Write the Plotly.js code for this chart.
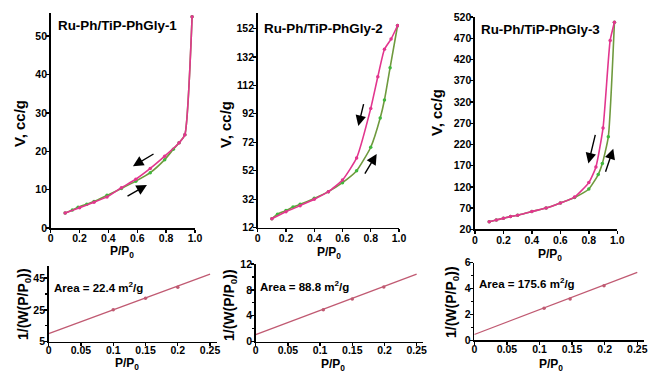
<!DOCTYPE html>
<html><head><meta charset="utf-8">
<script src="https://cdn.plot.ly/plotly-3.0.1.min.js"></script>
<style>body{margin:0;padding:0;background:#fff}#chart{width:651px;height:372px}</style>
</head><body><div id="chart"></div>
<script>
// ---- Data ----
const titles = ["Ru-Ph/TiP-PhGly-1", "Ru-Ph/TiP-PhGly-2", "Ru-Ph/TiP-PhGly-3"];
const areaLabels = ["Area = 22.4 m<sup>2</sup>/g", "Area = 88.8 m<sup>2</sup>/g", "Area = 175.6 m<sup>2</sup>/g"];

// Sample 1 isotherm
const ads1X = [0.1, 0.15, 0.19, 0.25, 0.3, 0.39, 0.49, 0.59, 0.69, 0.79, 0.85, 0.89, 0.93, 0.98];
const ads1Y = [3.9, 4.7, 5.4, 6.2, 6.9, 8.5, 10.3, 12.2, 14.4, 17.8, 20.5, 22.2, 24.3, 55.0];
const des1X = [0.98, 0.93, 0.89, 0.79, 0.69, 0.59, 0.49, 0.39, 0.3, 0.2, 0.1];
const des1Y = [55.0, 24.3, 22.2, 18.7, 15.5, 12.7, 10.5, 8.1, 6.7, 5.3, 3.9];

// Sample 2 isotherm
const ads2X = [0.1, 0.14, 0.2, 0.25, 0.3, 0.4, 0.5, 0.6, 0.7, 0.8, 0.867, 0.897, 0.937, 0.99];
const ads2Y = [18.3, 21.5, 24, 26.5, 28.4, 32.6, 37.3, 43.6, 52, 68.5, 89, 101.7, 124.4, 154];
const des2X = [0.99, 0.944, 0.897, 0.85, 0.8, 0.7, 0.6, 0.5, 0.4, 0.3, 0.2, 0.1];
const des2Y = [154, 144.5, 137.3, 118, 95.8, 61, 45.5, 37.3, 32, 27.5, 23.2, 18.3];

// Sample 3 isotherm
const ads3X = [0.1, 0.15, 0.2, 0.25, 0.3, 0.4, 0.5, 0.6, 0.7, 0.8, 0.866, 0.895, 0.937, 0.98];
const ads3Y = [38, 42, 46, 50, 53, 62, 70, 82, 95, 115, 149, 175, 238, 508];
const des3X = [0.98, 0.95, 0.9, 0.85, 0.8, 0.7, 0.6, 0.5, 0.4, 0.3, 0.25, 0.2, 0.15, 0.1];
const des3Y = [508, 465, 259, 167, 130, 96, 82, 70, 62, 53, 50, 46, 42, 38];

// BET plots (points and fitted line ends)
const bet1X = [0.1, 0.15, 0.2];
const bet1Y = [25.0, 32.3, 39.3];
const fit1X = [0, 0.25];
const fit1Y = [10.0, 47.5];

const bet2X = [0.105, 0.15, 0.199];
const bet2Y = [4.95, 6.6, 8.45];
const fit2X = [0, 0.25];
const fit2Y = [1.1, 10.45];

const bet3X = [0.107, 0.147, 0.199];
const bet3Y = [2.47, 3.2, 4.22];
const fit3X = [0, 0.25];
const fit3Y = [0.45, 5.25];

// ---- Styles ----
const PINK = "#e2368e";
const GREEN_LINE = "#6f9a3e";
const GREEN_MK = "#3fb83c";
const BETC = "#c05a72";
const FONT = "Liberation Sans, Arial, sans-serif";

function iso(x, y, line, mk, xa, ya) {
  return {x: x, y: y, xaxis: xa, yaxis: ya, mode: "lines+markers", type: "scatter",
    line: {color: line, width: 1.6, shape: "spline", smoothing: 0.5},
    marker: {color: mk, size: 3.5}, hoverinfo: "skip", showlegend: false};
}
function betPts(x, y, xa, ya) {
  return {x: x, y: y, xaxis: xa, yaxis: ya, mode: "markers", type: "scatter",
    marker: {color: BETC, size: 3.5}, showlegend: false, hoverinfo: "skip"};
}
function betLine(x, y, xa, ya) {
  return {x: x, y: y, xaxis: xa, yaxis: ya, mode: "lines", type: "scatter",
    line: {color: BETC, width: 1.3}, showlegend: false, hoverinfo: "skip"};
}

const data = [
  iso(ads1X, ads1Y, GREEN_LINE, GREEN_MK, "x", "y"),
  iso(des1X, des1Y, PINK, PINK, "x", "y"),
  iso(ads2X, ads2Y, GREEN_LINE, GREEN_MK, "x2", "y2"),
  iso(des2X, des2Y, PINK, PINK, "x2", "y2"),
  iso(ads3X, ads3Y, GREEN_LINE, GREEN_MK, "x3", "y3"),
  iso(des3X, des3Y, PINK, PINK, "x3", "y3"),
  betLine(fit1X, fit1Y, "x4", "y4"), betPts(bet1X, bet1Y, "x4", "y4"),
  betLine(fit2X, fit2Y, "x5", "y5"), betPts(bet2X, bet2Y, "x5", "y5"),
  betLine(fit3X, fit3Y, "x6", "y6"), betPts(bet3X, bet3Y, "x6", "y6")
];

const tickFont = {family: FONT, size: 10.5, color: "#000", weight: "bold"};
function ax(domain, range, extra) {
  return Object.assign({domain: domain, range: range, showline: true, linecolor: "#000", linewidth: 1.6,
    ticks: "outside", ticklen: 3, tickwidth: 1.4, tickcolor: "#000", showgrid: false, zeroline: false,
    tickfont: tickFont, fixedrange: true, ticklabelstandoff: -3}, extra);
}
const isoX = {tickvals: [0, 0.2, 0.4, 0.6, 0.8, 1.0], ticktext: ["0", "0.2", "0.4", "0.6", "0.8", "1.0"]};
const betX = {tickvals: [0, 0.05, 0.1, 0.15, 0.2, 0.25], ticktext: ["0", "0.05", "0.1", "0.15", "0.2", "0.25"], ticklabelstandoff: -5};
const minorY = (vals) => ({tickvals: vals, ticks: "outside", ticklen: 2, tickcolor: "#000", tickwidth: 1.2});

const layout = {
  width: 651, height: 372, margin: {l: 0, r: 0, t: 0, b: 0},
  paper_bgcolor: "#fff", plot_bgcolor: "rgba(0,0,0,0)", showlegend: false,
  font: {family: FONT, color: "#000"},
  xaxis: ax([0.0779, 0.2995], [0, 1.0], Object.assign({anchor: "y"}, isoX)),
  yaxis: ax([0.3871, 0.9651], [0, 56], {anchor: "x", tickvals: [0, 10, 20, 30, 40, 50]}),
  xaxis2: ax([0.3959, 0.6129], [0, 1.0], Object.assign({anchor: "y2"}, isoX)),
  yaxis2: ax([0.3879, 0.9651], [12, 162.8], {anchor: "x2", tickvals: [12, 32, 52, 72, 92, 112, 132, 152]}),
  xaxis3: ax([0.7296, 0.9482], [0, 1.0], Object.assign({anchor: "y3"}, isoX)),
  yaxis3: ax([0.3836, 0.9551], [20, 521], {anchor: "x3", tickvals: [20, 70, 120, 170, 220, 270, 320, 370, 420, 470, 520]}),
  xaxis4: ax([0.0748, 0.3326], [0, 0.26], Object.assign({anchor: "y4"}, betX)),
  yaxis4: ax([0.0815, 0.285], [5, 52.6], {anchor: "x4", tickvals: [5, 25, 45], minor: minorY([15, 35])}),
  xaxis5: ax([0.3928, 0.6499], [0, 0.26], Object.assign({anchor: "y5"}, betX)),
  yaxis5: ax([0.0815, 0.2903], [0, 12], {anchor: "x5", tickvals: [0, 4, 8, 12], minor: minorY([2, 6, 10])}),
  xaxis6: ax([0.7286, 0.9889], [0, 0.26], Object.assign({anchor: "y6"}, betX)),
  yaxis6: ax([0.0852, 0.2938], [0, 6], {anchor: "x6", tickvals: [0, 2, 4, 6], minor: minorY([1, 3, 5])}),
  annotations: []
};

const A = layout.annotations;
function paperText(text, x, y, size, angle, xanchor) {
  A.push({text: text, xref: "paper", yref: "paper", x: x / 651, y: 1 - y / 372, showarrow: false,
    xanchor: xanchor || "center", yanchor: "middle", textangle: angle || 0,
    font: {family: FONT, size: size, color: "#000", weight: "bold"}});
}
// panel titles
paperText(titles[0], 56, 26, 13.4, 0, "left");
paperText(titles[1], 262, 28, 13.4, 0, "left");
paperText(titles[2], 479, 29, 13.4, 0, "left");
// area labels
paperText(areaLabels[0], 52, 287, 11.5, 0, "left");
paperText(areaLabels[1], 258, 286, 11.5, 0, "left");
paperText(areaLabels[2], 477, 283, 11.5, 0, "left");
// axis titles
paperText("V, cc/g", 20, 124, 15, -90);
paperText("V, cc/g", 226, 124, 15, -90);
paperText("V, cc/g", 437, 113, 15, -90);
paperText("P/P<sub>0</sub>", 122, 252, 12);
paperText("P/P<sub>0</sub>", 329, 253, 12);
paperText("P/P<sub>0</sub>", 550, 255, 12);
paperText("1/(W(P/P<sub>0</sub>))", 24, 304, 14, -90);
paperText("1/(W(P/P<sub>0</sub>))", 230, 305, 14, -90);
paperText("1/(W(P/P<sub>0</sub>))", 452, 302, 14, -90);
paperText("P/P<sub>0</sub>", 127, 364, 12);
paperText("P/P<sub>0</sub>", 333, 365, 12);
paperText("P/P<sub>0</sub>", 551, 365, 12);

// hysteresis arrows (head at x,y ; tail at ax,ay)
function arrow(xa, ya, hx, hy, tx, ty) {
  A.push({xref: xa, yref: ya, axref: xa, ayref: ya, x: hx, y: hy, ax: tx, ay: ty, text: "",
    showarrow: true, arrowhead: 2, arrowsize: 1.5, arrowwidth: 1.4, arrowcolor: "#000"});
}
arrow("x", "y", 0.57, 16.1, 0.723, 19.5);
arrow("x", "y", 0.667, 11.2, 0.522, 8.1);
arrow("x2", "y2", 0.712, 83.4, 0.752, 99.8);
arrow("x2", "y2", 0.842, 63.8, 0.752, 49);
arrow("x3", "y3", 0.797, 175, 0.848, 246);
arrow("x3", "y3", 0.972, 210, 0.914, 152);

Plotly.newPlot("chart", data, layout, {displayModeBar: false, staticPlot: true});
</script></body></html>
